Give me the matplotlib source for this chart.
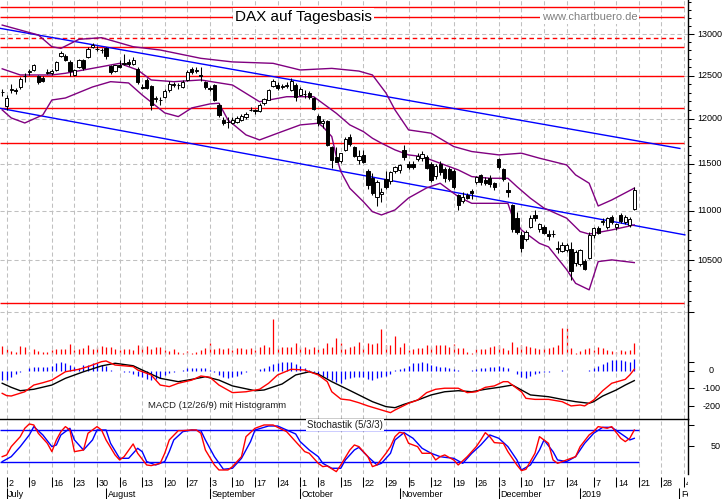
import numpy as np
import pandas as pd
import matplotlib
matplotlib.use("Agg")
import matplotlib.pyplot as plt
import matplotlib.transforms as mtransforms
from matplotlib.ticker import FixedLocator, NullFormatter

plt.rcParams['font.family'] = ['Liberation Sans', 'DejaVu Sans']

# ---------------- data ----------------
holidays = ['2018-10-03', '2018-12-25', '2018-12-26', '2018-12-31', '2019-01-01']

opens = [12310, 12150, 12335, 12325, 12370, 12490,
         12540, 12570, 12495, 12475, 12535,
         12530, 12568, 12730, 12735, 12665,
         12510, 12598, 12686, 12725, 12845,
         12820, 12810, 12828, 12615, 12553,
         12620, 12640, 12660, 12640, 12580,
         12360, 12450, 12380, 12230, 12210,
         12255, 12325, 12390, 12390, 12365,
         12445, 12580, 12555, 12510, 12420,
         12350, 12390, 12160, 11990, 11960,
         11950, 11965, 11990, 12015, 12100,
         12100, 12090, 12175, 12220, 12380,
         12390, 12360, 12380, 12330, 12390,
         12270, 12290, 12300, 12240, 12030,
         11950, 11970, 11680, 11570, 11530,
         11650, 11800, 11680, 11545, 11600,
         11420, 11350, 11150, 11180, 11340,
         11320, 11420, 11430, 11650, 11500,
         11500, 11550, 11560, 11580, 11500,
         11370, 11500, 11450, 11440, 11420,
         11170, 11100, 11170, 11210, 11300,
         11380, 11330, 11350, 11290, 11550,
         11440, 11220, 11060, 10930, 10750,
         10710, 10830, 10960, 10810, 10840,
         10760, 10760, 10625, 10590, 10600,
         10610, 10470, 10465, 10490, 10520,
         10755, 10820, 10885, 10840, 10940,
         10830, 10960, 10890, 10860, 11020]
highs = [12345, 12270, 12400, 12355, 12480, 12525,
         12580, 12640, 12510, 12500, 12580,
         12575, 12670, 12790, 12760, 12685,
         12580, 12700, 12700, 12840, 12890,
         12850, 12830, 12840, 12630, 12630,
         12680, 12760, 12700, 12720, 12600,
         12400, 12470, 12390, 12260, 12250,
         12345, 12440, 12420, 12410, 12450,
         12560, 12600, 12600, 12600, 12440,
         12380, 12400, 12180, 12020, 12020,
         12020, 12030, 12050, 12080, 12140,
         12110, 12180, 12240, 12345, 12460,
         12420, 12400, 12420, 12470, 12410,
         12370, 12330, 12320, 12250, 12050,
         12000, 11990, 11700, 11680, 11620,
         11800, 11830, 11700, 11650, 11650,
         11440, 11400, 11330, 11240, 11420,
         11420, 11480, 11500, 11710, 11530,
         11530, 11620, 11640, 11600, 11520,
         11500, 11530, 11470, 11470, 11440,
         11180, 11200, 11190, 11230, 11370,
         11390, 11360, 11380, 11310, 11560,
         11460, 11300, 11070, 10990, 10790,
         10800, 10960, 11010, 10880, 10860,
         10800, 10800, 10690, 10680, 10670,
         10680, 10600, 10610, 10510, 10780,
         10830, 10850, 10930, 10940, 10960,
         10880, 10980, 10960, 10940, 11250]
lows = [12260, 12105, 12300, 12290, 12340, 12430,
        12510, 12555, 12405, 12425, 12515,
        12510, 12550, 12715, 12670, 12490,
        12495, 12590, 12560, 12710, 12835,
        12795, 12770, 12700, 12520, 12540,
        12590, 12630, 12610, 12630, 12400,
        12340, 12340, 12100, 12190, 12160,
        12240, 12310, 12370, 12340, 12350,
        12440, 12520, 12530, 12440, 12340,
        12320, 12200, 12020, 11930, 11895,
        11940, 11950, 11975, 12000, 12090,
        12050, 12080, 12160, 12210, 12370,
        12330, 12340, 12350, 12320, 12200,
        12260, 12240, 12230, 12100, 11920,
        11900, 11700, 11460, 11520, 11510,
        11640, 11700, 11570, 11500, 11510,
        11230, 11170, 11050, 11090, 11230,
        11280, 11400, 11400, 11540, 11440,
        11440, 11530, 11530, 11440, 11300,
        11340, 11380, 11300, 11320, 11230,
        11010, 11080, 11120, 11130, 11280,
        11270, 11270, 11250, 11220, 11440,
        11320, 11150, 10780, 10760, 10580,
        10690, 10820, 10900, 10780, 10760,
        10700, 10730, 10570, 10580, 10585,
        10310, 10440, 10440, 10400, 10510,
        10720, 10760, 10860, 10810, 10870,
        10800, 10880, 10870, 10840, 11010]
closes = [12306, 12240, 12345, 12317, 12462, 12496,
          12550, 12620, 12420, 12440, 12540,
          12555, 12660, 12770, 12686, 12550,
          12568, 12686, 12590, 12815, 12860,
          12815, 12805, 12728, 12545, 12620,
          12600, 12650, 12640, 12690, 12424,
          12358, 12358, 12163, 12237, 12210,
          12320, 12400, 12400, 12385, 12430,
          12545, 12540, 12560, 12500, 12360,
          12346, 12215, 12040, 11955, 11960,
          11987, 12010, 12032, 12058, 12105,
          12090, 12157, 12222, 12330, 12431,
          12350, 12372, 12385, 12440, 12247,
          12340, 12280, 12244, 12111, 11947,
          11975, 11712, 11539, 11524, 11614,
          11777, 11715, 11589, 11590, 11524,
          11274, 11191, 11307, 11201, 11255,
          11410, 11465, 11485, 11575, 11465,
          11470, 11585, 11605, 11460, 11325,
          11475, 11412, 11353, 11341, 11250,
          11066, 11150, 11140, 11192, 11354,
          11309, 11298, 11288, 11257, 11465,
          11335, 11200, 10811, 10788, 10622,
          10780, 10931, 10924, 10865, 10772,
          10740, 10766, 10611, 10655, 10650,
          10390, 10580, 10600, 10415, 10750,
          10820, 10770, 10893, 10930, 10890,
          10865, 10895, 10940, 10920, 11225]

# Bollinger bands (read at selected days)
bb_up_idx = [0, 8, 11, 13, 17, 22, 29, 35, 44, 51, 60, 66, 73, 79, 82, 85, 87, 90, 95, 100,
             104, 110, 115, 119, 125, 127, 130, 132, 135, 140]
bb_up_val = [13110, 12988, 12845, 12825, 12935, 12955, 12845, 12805, 12705, 12662, 12645, 12566,
             12585, 12553, 12507, 12296, 12101, 11875, 11838, 11690, 11635, 11598, 11617, 11562,
             11489, 11381, 11292, 11052, 11115, 11240]
bb_mid_idx = [0, 4, 11, 14, 22, 26, 30, 33, 38, 44, 51, 57, 63, 69, 74, 77, 80, 82, 84, 87,
              90, 93, 97, 101, 104, 108, 112, 114, 117, 120, 125, 128, 130, 135, 140]
bb_mid_val = [12580, 12507, 12507, 12527, 12605, 12645, 12566, 12448, 12428, 12448, 12389, 12195,
              12253, 12253, 12063, 11931, 11856, 11782, 11727, 11653, 11598, 11580, 11507, 11435,
              11363, 11345, 11345, 11256, 11133, 11030, 10926, 10789, 10763, 10805, 10856]
bb_lo_idx = [0, 2, 5, 9, 11, 14, 20, 24, 28, 31, 36, 39, 42, 46, 48, 50, 54, 57, 61, 66,
             70, 71, 73, 74, 75, 77, 80, 82, 84, 87, 90, 94, 97, 101, 104, 112, 113, 115, 119, 121,
             125, 127, 130, 132, 135, 140]
bb_lo_val = [12101, 12010, 11953, 12044, 12215, 12238, 12366, 12428, 12413, 12273, 12067, 12025,
             12124, 12170, 12178, 11987, 11819, 11763, 11838, 11931, 11950, 11912, 11800, 11580,
             11417, 11238, 11097, 10993, 10959, 11011, 11136, 11242, 11292, 11150, 11080, 11080,
             10942, 10805, 10669, 10634, 10409, 10274, 10211, 10487, 10504, 10477]

# horizontal resistance/support lines and trend channel
red_levels = [13339, 13210, 12838, 12491, 12120, 11726, 10083]
red_dashed_levels = [12947]
trend_upper = ([-0.49, 150.1], [13070, 11669])
trend_lower = ([-0.49, 151.2], [12120, 10755])

# volume (arbitrary units) and MACD histogram, one value per day
volume = [24, 13, 9, 6, 23, 21, 6, 13, 9, 6, 6, 11, 13, 14, 14, 29, 11, 13, 16, 26,
          13, 21, 23, 21, 21, 13, 11, 13, 13, 11, 26, 21, 23, 13, 21, 19, 11, 9, 13, 6,
          3, 9, 3, 6, 11, 16, 31, 13, 16, 13, 16, 11, 16, 16, 13, 16, 11, 19, 26, 19,
          104, 16, 21, 19, 19, 31, 19, 21, 13, 19, 13, 16, 33, 21, 46, 31, 13, 21, 23, 36,
          16, 31, 29, 33, 73, 26, 26, 53, 21, 33, 11, 13, 16, 16, 26, 21, 26, 26, 26, 19,
          29, 16, 18, 6, 3, 13, 13, 13, 19, 23, 26, 16, 11, 36, 21, 26, 23, 21, 16, 13,
          16, 16, 19, 26, 76, 76, 16, 3, 9, 13, 16, 11, 19, 16, 11, 9, 6, 11, 9, 11, 31]
macd_hist = [-53, -53, -38, -19, -6, 0, 13, 23, 23, 23,
             23, 26, 45, 51, 41, 32, 23, 13, 32, 32,
             45, 41, 32, 28, 4, -4, 0, -6, -6, -19,
             -30, -38, -45, -53, -49, -43, -24, -15, -6, 0,
             4, 13, 17, 17, 13, 13, 4, -6, -24, -34,
             -43, -38, -30, -19, -6, 0, 0, 8, 13, 26,
             38, 45, 49, 51, 47, 38, 26, 13, 4, -6,
             -19, -30, -43, -53, -62, -68, -49, -43, -38, -38,
             -38, -49, -53, -43, -38, -30, -19, 4, 8, 13,
             26, 41, 45, 47, 41, 32, 26, 23, 19, 13,
             8, 4, 0, 0, 4, 8, 13, 17, 19, 23,
             26, 23, 13, 0, -19, -38, -43, -30, -19, -11,
             -6, -6, -2, 0, 4, -2, 0, -4, 0, 0,
             4, 13, 26, 38, 51, 60, 60, 60, 56, 51, 64]

macd_idx = [0, 1, 2, 5, 7, 9, 11, 14, 17, 19, 22, 23, 25, 29, 30, 33, 35, 37, 39, 42,
            44, 46, 48, 51, 54, 57, 59, 61, 64, 67, 70, 72, 73, 75, 77, 79, 81, 84, 86, 87,
            90, 92, 94, 96, 98, 101, 103, 105, 107, 109, 111, 112, 115, 116, 118, 121, 124, 126,
            128, 129, 131, 133, 135, 138, 139, 140]
macd_val = [-128, -141, -143, -119, -81, -68, -53, -6, 8, 23, 51, 55, 32, 23, 4, -24, -81, -90,
            -71, -53, -30, -37, -81, -124, -119, -105, -71, -24, 8, 4, -24, -62, -119, -160,
            -166, -181, -199, -222, -237, -222, -184, -166, -124, -105, -99, -99, -124, -119,
            -94, -86, -62, -62, -119, -156, -162, -162, -175, -199, -194, -199, -166, -113, -71,
            -49, -24, 8]
signal_idx = [0, 2, 4, 7, 11, 14, 18, 22, 25, 29, 31, 35, 39, 42, 45, 48, 51, 56, 58, 62,
              65, 68, 70, 73, 76, 79, 82, 85, 87, 89, 92, 95, 98, 101, 104, 107, 110, 113, 115,
              117, 121, 124, 127, 130, 131, 133, 136, 138, 140]
signal_val = [-71, -94, -113, -105, -81, -43, -6, 27, 42, 28, 4, -43, -62, -49, -34, -53, -86,
              -113, -109, -75, -24, -6, -19, -62, -99, -137, -175, -203, -209, -190, -166, -137,
              -119, -113, -119, -105, -94, -81, -109, -137, -147, -162, -175, -184, -175, -143,
              -109, -81, -56]

stoch_k_idx = [0, 1, 2, 4, 5, 6, 7, 8, 10, 11, 12, 13, 14, 15, 16, 18, 19, 21, 22, 23,
               25, 26, 27, 29, 30, 32, 33, 35, 36, 37, 39, 40, 42, 43, 44, 45, 47, 48, 50, 51,
               53, 54, 56, 58, 60, 61, 63, 64, 66, 67, 68, 70, 71, 72, 74, 75, 77, 78, 79, 81,
               82, 83, 85, 86, 87, 88, 89, 90, 92, 93, 95, 96, 97, 98, 100, 101, 103, 105, 106,
               107, 108, 109, 111, 112, 114, 115, 116, 118, 119, 121, 122, 123, 125, 127, 128,
               130, 131, 132, 134, 135, 137, 138, 139, 140]
stoch_k_val = [30.6, 33.8, 49.4, 68.1, 83.8, 91.9, 90, 74.4, 55.6, 40, 61.9, 77.5, 86.9, 80.6,
               40, 43.1, 74.4, 86.9, 80.6, 61.9, 33.8, 24.4, 30.6, 54.4, 36.9, 15, 13.8, 18.1,
               36.9, 61.9, 79.4, 79.4, 80.6, 80.6, 74.4, 43.1, 15, 5.6, 5.6, 11.9, 30.6, 68.1,
               83.8, 90, 90, 85.6, 77.5, 68.1, 49.4, 40, 36.9, 18.1, 11.9, 13.1, 2.5, 15, 43.1,
               52.5, 49.4, 30.6, 11.9, 15, 36.9, 49.4, 68.1, 76.3, 74.4, 55.6, 49.4, 36.9, 36.9,
               24.4, 30.6, 33.8, 24.4, 15, 30.6, 49.4, 61.9, 75.6, 68.1, 56.9, 55.6, 40, 15,
               4.4, 6.9, 36.9, 68.1, 55.6, 24.4, 18.1, 24.4, 30.6, 49.4, 71.3, 77.5, 86.9, 83.8,
               86.9, 65, 58.8, 65, 80.6]
stoch_d_idx = [0, 2, 4, 6, 7, 9, 11, 12, 13, 15, 16, 18, 20, 21, 23, 24, 26, 28, 30, 31,
               32, 34, 36, 37, 38, 40, 42, 44, 45, 47, 49, 51, 53, 55, 56, 59, 61, 63, 65, 66,
               68, 70, 71, 73, 75, 76, 78, 79, 81, 83, 84, 86, 87, 89, 91, 93, 95, 97, 98, 100,
               102, 104, 106, 108, 110, 112, 114, 115, 117, 119, 120, 122, 123, 125, 127, 129,
               131, 133, 135, 138, 139, 140]
stoch_d_val = [21.3, 30.6, 49.4, 71.3, 86.9, 71.3, 49.4, 52.5, 71.3, 83.8, 61.9, 43.1, 61.9,
               80.6, 80.6, 55.6, 27.5, 27.5, 46.3, 40, 21.3, 15, 21.3, 40, 61.9, 77.5, 80.6,
               79.4, 61.9, 30.6, 6.9, 8.8, 27.5, 58.8, 80.6, 88.1, 88.1, 80.6, 73.1, 58.8, 43.1,
               30.6, 18.1, 8.8, 8.8, 24.4, 43.1, 48, 30.6, 15, 18.1, 36.9, 61.9, 75.6, 65, 46.3,
               36.9, 30.6, 29.4, 27.5, 18.1, 36.9, 52.5, 71.3, 65, 49.4, 24.4, 5.6, 15, 43.1,
               61.9, 40, 24.4, 21.3, 30.6, 55.6, 74.4, 85.6, 85.6, 68.1, 61.9, 65]

price_ticks = [10500, 11000, 11500, 12000, 12500, 13000]
macd_ticks = [0, -100, -200]
month_names = {7: 'July', 8: 'August', 9: 'September', 10: 'October',
               11: 'November', 12: 'December', 1: '2019', 2: 'February'}

# ---------------- calendar ----------------
cal = pd.bdate_range('2018-06-29', '2019-02-15')
cal = cal[~cal.isin(pd.to_datetime(holidays))]
pos = np.arange(len(cal))
n = len(closes)
mondays = pos[cal.weekday == 0]
month_start = [i for i in range(1, len(cal)) if cal[i].month != cal[i - 1].month]

# ---------------- figure ----------------
W, H = 723, 499
fig = plt.figure(figsize=(W / 100, H / 100), dpi=100)
fig.patch.set_facecolor('white')
PXR = 688.0
XLIM = (-2.2 / 4.515, (PXR - 2.2) / 4.515)


def add_px_axes(y0, y1):
    a = fig.add_axes([0, 1 - y1 / H, PXR / W, (y1 - y0) / H])
    a.set_xlim(*XLIM)
    a.set_facecolor('none')
    for s in a.spines.values():
        s.set_visible(False)
    a.set_xticks([])
    a.set_yticks([])
    return a


grid_kw = dict(color='#c0c0c0', lw=0.75, ls=(0, (4, 2.7)), zorder=0.5)
blue = '#0000ff'
red = '#ff0000'
purple = '#800080'

# ---- main price panel ----
ax = add_px_axes(0, 305)
ax.set_yscale('log')
ax.set_ylim(10066, 13424)
for m in mondays:
    ax.axvline(m, **grid_kw)
for lv in price_ticks:
    ax.axhline(lv, **grid_kw)
red_end = (684 - 2.2) / 4.515
ax.hlines(red_levels, XLIM[0], red_end, colors=red, lw=1.0, zorder=1)
ax.hlines(red_dashed_levels, XLIM[0], red_end, colors=red, lw=1.0, linestyles=(0, (3.3, 2.3)), zorder=1)
ax.plot(*trend_upper, color=blue, lw=1.0, zorder=2)
ax.plot(*trend_lower, color=blue, lw=1.0, zorder=2)
ax.plot(bb_up_idx, bb_up_val, color=purple, lw=1.0, zorder=2)
ax.plot(bb_mid_idx, bb_mid_val, color=purple, lw=1.0, zorder=2)
ax.plot(bb_lo_idx, bb_lo_val, color=purple, lw=1.0, zorder=2)

o = np.array(opens, float)
c = np.array(closes, float)
xi = pos[:n]
ax.vlines(xi, lows, highs, color='black', lw=0.75, zorder=3)
body_col = ['white' if cc >= oo else 'black' for oo, cc in zip(o, c)]
ax.bar(xi, c - o, bottom=o, width=0.72, color=body_col, edgecolor='black', lw=0.7, zorder=4)

ax.spines['right'].set_visible(True)
ax.spines['right'].set_linewidth(1.0)
ax.yaxis.tick_right()
ax.yaxis.set_major_locator(FixedLocator(price_ticks))
ax.yaxis.set_minor_locator(FixedLocator([v for v in range(10100, 13500, 100) if v % 500]))
ax.yaxis.set_major_formatter(NullFormatter())
ax.yaxis.set_minor_formatter(NullFormatter())
ax.tick_params(axis='y', which='major', length=4.5, width=0.75, direction='out')
ax.tick_params(axis='y', which='minor', length=2.3, width=0.75, direction='out')
trm = mtransforms.blended_transform_factory(ax.transAxes, ax.transData)
for lv in price_ticks:
    ax.text(697 / PXR, lv, f'{lv}', transform=trm, ha='left', va='center', fontsize=6.5, clip_on=False)

ax.text(235 / PXR, 13210, 'DAX auf Tagesbasis', transform=trm, ha='left', va='center',
        fontsize=11, color='black', zorder=10,
        bbox=dict(facecolor='white', edgecolor='none', pad=1.5))
ax.text(541.7 / PXR, 13210, 'www.chartbuero.de', transform=trm, ha='left', va='center',
        fontsize=8, color='#808080', zorder=10,
        bbox=dict(facecolor='white', edgecolor='none', pad=1.5))

# ---- MACD / volume panel ----
axv = add_px_axes(305, 419)
axv.set_ylim(-195.9, 146.1)
axv.vlines(xi, 0, volume, color=red, lw=0.9)

axm = add_px_axes(305, 419)
axm.set_ylim(-272.9, 371.2)
for m in mondays:
    axm.axvline(m, **grid_kw)
axm.axhline(330, **grid_kw)
axm.vlines(xi, 0, macd_hist, color=blue, lw=0.9, zorder=2)
axm.plot(signal_idx, signal_val, color='black', lw=1.0, zorder=3)
axm.plot(macd_idx, macd_val, color=red, lw=1.0, zorder=3)
axm.spines['right'].set_visible(True)
axm.spines['right'].set_linewidth(1.0)
axm.yaxis.tick_right()
axm.set_yticks(macd_ticks + [50, 330])
axm.yaxis.set_major_formatter(NullFormatter())
axm.tick_params(axis='y', length=4.5, width=0.75, direction='out')
trmm = mtransforms.blended_transform_factory(axm.transAxes, axm.transData)
for v in macd_ticks:
    axm.text(711.5 / PXR, v, f'{v}', transform=trmm, ha='center', va='center', fontsize=6.5, clip_on=False)
axm.text(148 / PXR, -194, 'MACD (12/26/9) mit Histogramm', transform=trmm, ha='left', va='center',
         fontsize=6.8, color='#202020')

# ---- stochastic panel ----
axs = add_px_axes(419, 474)
axs.set_ylim(-1.94, 101.2)
for m in mondays:
    axs.axvline(m, **grid_kw)
axs.hlines([80, 20], XLIM[0], 141, colors=blue, lw=1.0, zorder=2)
axs.plot(stoch_d_idx, stoch_d_val, color=blue, lw=1.0, zorder=3)
axs.plot(stoch_k_idx, stoch_k_val, color=red, lw=1.0, zorder=3)
axs.spines['right'].set_visible(True)
axs.spines['top'].set_visible(True)
axs.spines['right'].set_linewidth(1.0)
axs.spines['top'].set_linewidth(1.0)
axs.yaxis.tick_right()
axs.set_yticks([50, 90])
axs.yaxis.set_major_formatter(NullFormatter())
axs.tick_params(axis='y', length=4.5, width=0.75, direction='out')
trs = mtransforms.blended_transform_factory(axs.transAxes, axs.transData)
axs.text(716 / PXR, 50, '50', transform=trs, ha='center', va='center', fontsize=6.5, clip_on=False)
axs.text(307 / PXR, 90, 'Stochastik (5/3/3)', transform=trs, ha='left', va='center',
         fontsize=7, color='#202020', zorder=10,
         bbox=dict(facecolor='white', edgecolor='none', pad=1.0))

# ---- date axis ----
axd = add_px_axes(474, 499)
axd.set_ylim(25, 0)
axd.vlines(mondays, 2.7, 13.3, color='black', lw=0.75)
axd.vlines(month_start, 14.3, 25, color='black', lw=0.75)
off = mtransforms.offset_copy(axd.transData, fig=fig, x=1.6, y=0, units='dots')
for m in mondays:
    axd.text(m, 11.7, f'{cal[m].day}', transform=off, ha='left', va='baseline', fontsize=6.5, clip_on=True)
for ms in month_start:
    axd.text(ms, 23.3, month_names[cal[ms].month], transform=off, ha='left', va='baseline',
             fontsize=6.5, clip_on=True)

fig.savefig('out.png', dpi=100)
